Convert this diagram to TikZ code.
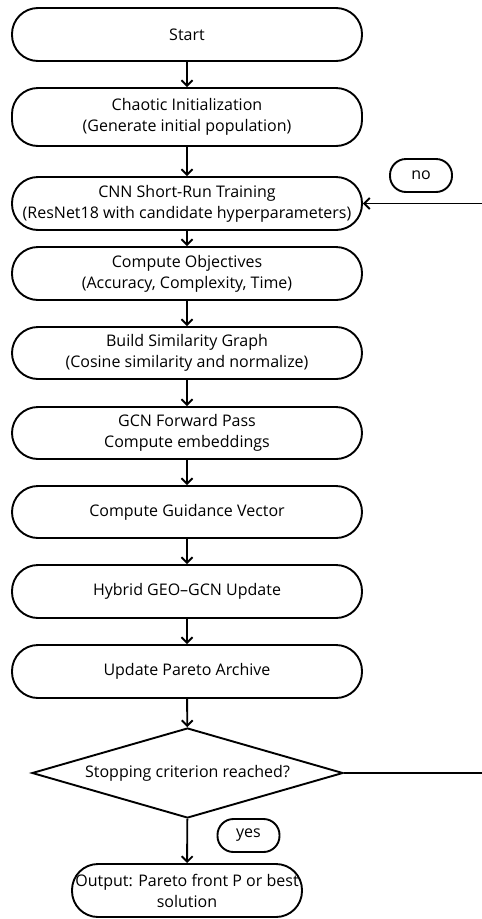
\documentclass[tikz,border=0pt]{standalone}
\usepackage{fontspec}
\setmainfont{Open Sans}
\usetikzlibrary{arrows.meta,shapes.geometric}
\begin{document}
\begin{tikzpicture}[x=1pt,y=-1pt,
  every node/.style={font=\fontsize{16}{21}\selectfont, align=center, inner sep=0pt},
  stepbox/.style={draw, line width=1.9pt, rounded corners=26pt, minimum width=350pt, minimum height=53pt},
  tagbox/.style={draw, line width=1.9pt, rounded corners=16pt, minimum width=62pt, minimum height=33pt},
  decide/.style={draw, diamond, shape aspect=3.456, line width=1.9pt, minimum width=311pt, minimum height=90pt},
  flow/.style={line width=1.9pt, -{Straight Barb[length=5.5pt,width=11pt,line width=1.9pt]}},
  plain/.style={line width=1.9pt}]
\useasboundingbox (0,0) rectangle (482,919);
\node[stepbox] (start) at (187,34.5) {Start};
\node[stepbox, minimum height=58pt] (init) at (187,117) {Chaotic Initialization\\(Generate initial population)};
\node[stepbox] (cnn) at (187,203.5) {CNN Short-Run Training\\(ResNet18 with candidate hyperparameters)};
\node[stepbox] (obj) at (187,273.5) {Compute Objectives\\(Accuracy, Complexity, Time)};
\node[stepbox, minimum height=52pt] (graph) at (187,353) {Build Similarity Graph\\(Cosine similarity and normalize)};
\node[stepbox, minimum height=52pt] (gcn) at (187,433) {GCN Forward Pass\\Compute embeddings};
\node[stepbox, minimum height=52pt] (guide) at (187,512) {Compute Guidance Vector};
\node[stepbox] (hybrid) at (187,591.5) {Hybrid GEO{\textendash}GCN Update};
\node[stepbox] (archive) at (187,671.5) {Update Pareto Archive};
\node[decide] (stop) at (187.5,773) {Stopping criterion reached?};
\node[stepbox, minimum width=230pt] (out) at (187,890.5) {Output: Pareto front P or best\\solution};
\node[tagbox] (yes) at (248.5,835.5) {yes};
\node[tagbox] (no) at (421,175.5) {no};
\coordinate (rb) at (483,773);
\coordinate (rt) at (483,203.5);
\draw[flow] (start) -- (init);
\draw[flow] (init) -- (cnn);
\draw[flow] (cnn) -- (obj);
\draw[flow] (obj) -- (graph);
\draw[flow] (graph) -- (gcn);
\draw[flow] (gcn) -- (guide);
\draw[flow] (guide) -- (hybrid);
\draw[flow] (hybrid) -- (archive);
\draw[flow] (archive) -- (stop);
\draw[flow] (stop) -- (out);
\draw[plain] (stop.east) -- (rb) -- (rt);
\draw[flow] (rt) -- (cnn.east);
\end{tikzpicture}
\end{document}
